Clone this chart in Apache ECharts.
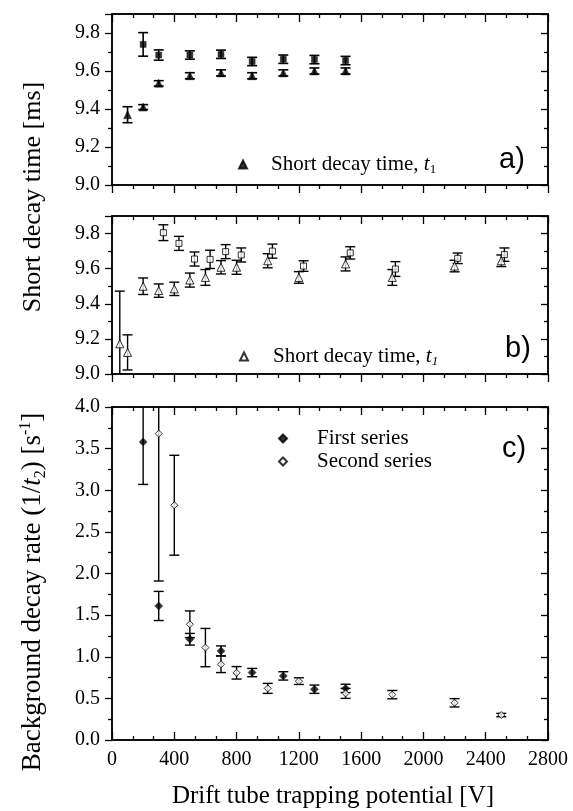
<!DOCTYPE html>
<html>
<head>
<meta charset="utf-8">
<script src="https://cdn.jsdelivr.net/npm/echarts@6/dist/echarts.min.js"></script>
<style>
  html, body { margin: 0; padding: 0; background: #fff; }
  #chart { width: 573px; height: 811px; }
</style>
</head>
<body>
<div id="chart"></div>
<script>
// ---- Panel a: short decay time (ms) vs drift tube potential (V)
const voltA = [100, 200, 300, 500, 700, 900, 1100, 1300, 1500];
const t1A = [9.37, 9.41, 9.535, 9.575, 9.59, 9.575, 9.59, 9.60, 9.60];
const t1AErr = [0.042, 0.013, 0.014, 0.016, 0.016, 0.016, 0.016, 0.016, 0.016];
const voltASq = [200, 300, 500, 700, 900, 1100, 1300, 1500];
const sqA = [9.74, 9.684, 9.684, 9.688, 9.65, 9.662, 9.66, 9.655];
const sqAErr = [0.062, 0.027, 0.022, 0.022, 0.022, 0.022, 0.022, 0.022];

// ---- Panel b: short decay time (ms), second run
const voltB = [50, 100, 200, 300, 400, 500, 600, 700, 800, 1000, 1200, 1500, 1800, 2200, 2500];
const t1B = [9.172, 9.123, 9.50, 9.475, 9.485, 9.535, 9.55, 9.608, 9.608, 9.645, 9.55, 9.627, 9.55, 9.615, 9.645];
const t1BErr = [0.30, 0.10, 0.047, 0.038, 0.038, 0.04, 0.045, 0.038, 0.04, 0.04, 0.033, 0.04, 0.045, 0.033, 0.033];
const voltBSq = [330, 430, 530, 630, 730, 830, 1030, 1230, 1530, 1820, 2220, 2520];
const sqB = [9.805, 9.744, 9.655, 9.653, 9.697, 9.678, 9.70, 9.615, 9.69, 9.598, 9.659, 9.68];
const sqBErr = [0.045, 0.04, 0.04, 0.052, 0.04, 0.04, 0.04, 0.03, 0.035, 0.042, 0.03, 0.038];

// ---- Panel c: background decay rate (1/s)
const voltC1 = [200, 300, 500, 700, 900, 1100, 1300, 1500];
const rateC1 = [3.58, 1.61, 1.21, 1.07, 0.81, 0.77, 0.61, 0.62];
const errC1 = [0.51, 0.175, 0.07, 0.06, 0.05, 0.05, 0.05, 0.05];
const voltC2 = [300, 400, 500, 600, 700, 800, 1000, 1200, 1500, 1800, 2200, 2500];
const rateC2 = [3.68, 2.82, 1.39, 1.11, 0.91, 0.807, 0.62, 0.707, 0.56, 0.545, 0.447, 0.30];
const errC2 = [1.77, 0.60, 0.16, 0.23, 0.10, 0.075, 0.06, 0.04, 0.06, 0.05, 0.05, 0.02];

// ---- Axis settings
const xTicks = { min: 0, max: 2800, interval: 400 };
const yRangeA = { min: 9.0, max: 9.9, interval: 0.2 };
const yRangeB = { min: 9.0, max: 9.9, interval: 0.2 };
const yRangeC = { min: 0, max: 4.0, interval: 0.5 };

const SERIF = 'Liberation Serif';
const SANS = 'Liberation Sans';
const INK = '#000';

const chart = echarts.init(document.getElementById('chart'), null, { renderer: 'canvas' });

function pairs(xs, ys) { return xs.map((x, i) => [x, ys[i]]); }
function triples(xs, ys, es) { return xs.map((x, i) => [x, ys[i], es[i]]); }

// error bar drawn from [x, y, err], clipped to the y range of its panel
function errorBars(xIdx, yIdx, range, xs, ys, es, capHalf, width) {
  return {
    type: 'custom',
    xAxisIndex: xIdx,
    yAxisIndex: yIdx,
    silent: true,
    z: 2,
    data: triples(xs, ys, es),
    renderItem: function (params, api) {
      const x = api.value(0), y = api.value(1), e = api.value(2);
      const hi = y + e, lo = y - e;
      const hiC = Math.min(hi, range.max), loC = Math.max(lo, range.min);
      const top = api.coord([x, hiC]);
      const bot = api.coord([x, loC]);
      const style = { stroke: INK, lineWidth: width, fill: null };
      const children = [{ type: 'line', shape: { x1: top[0], y1: top[1], x2: bot[0], y2: bot[1] }, style: style }];
      if (hi <= range.max) children.push({ type: 'line', shape: { x1: top[0] - capHalf, y1: top[1], x2: top[0] + capHalf, y2: top[1] }, style: style });
      if (lo >= range.min) children.push({ type: 'line', shape: { x1: bot[0] - capHalf, y1: bot[1], x2: bot[0] + capHalf, y2: bot[1] }, style: style });
      return { type: 'group', children: children };
    }
  };
}

function markers(name, xIdx, yIdx, xs, ys, symbol, size, filled) {
  return {
    name: name,
    type: 'scatter',
    xAxisIndex: xIdx,
    yAxisIndex: yIdx,
    z: 3,
    symbol: symbol,
    symbolSize: size,
    data: pairs(xs, ys),
    itemStyle: filled ? { color: INK, borderColor: INK, borderWidth: 0.5 }
                      : { color: '#fff', borderColor: INK, borderWidth: 1 },
    emphasis: { disabled: true }
  };
}

const grids = [
  { left: 112, right: 25, top: 14, height: 171 },
  { left: 112, right: 25, top: 216, height: 158 },
  { left: 112, right: 25, top: 407, height: 333 }
].map(g => Object.assign(g, { show: true, borderColor: INK, borderWidth: 1.5, backgroundColor: 'transparent' }));

const axisLine = { show: true, onZero: false, lineStyle: { color: INK, width: 1.5 } };
const tickStyle = { color: INK, width: 1.3 };

const xAxes = [];
const yAxes = [];
const yRanges = [yRangeA, yRangeB, yRangeC];
for (let i = 0; i < 3; i++) {
  // bottom and top x axes
  xAxes.push({
    type: 'value', gridIndex: i, position: 'bottom',
    min: xTicks.min, max: xTicks.max, interval: xTicks.interval,
    axisLine: axisLine,
    axisTick: { show: true, inside: i === 2, length: 8, lineStyle: tickStyle },
    minorTick: { show: true, splitNumber: 3, length: 4, lineStyle: tickStyle },
    splitLine: { show: false },
    axisLabel: { show: i === 2, color: INK, fontFamily: SERIF, fontSize: 20, margin: 10, formatter: v => String(v) }
  });
  xAxes.push({
    type: 'value', gridIndex: i, position: 'top',
    min: xTicks.min, max: xTicks.max, interval: xTicks.interval,
    axisLine: axisLine,
    axisTick: { show: true, inside: true, length: 8, lineStyle: tickStyle },
    minorTick: { show: true, splitNumber: 3, length: 4, lineStyle: tickStyle },
    splitLine: { show: false },
    axisLabel: { show: false }
  });
  const r = yRanges[i];
  yAxes.push({
    type: 'value', gridIndex: i, position: 'left',
    min: r.min, max: r.max, interval: r.interval,
    axisLine: axisLine,
    axisTick: { show: true, inside: false, length: 7, lineStyle: tickStyle },
    minorTick: { show: true, splitNumber: 2, length: 4, lineStyle: tickStyle },
    splitLine: { show: false },
    axisLabel: {
      show: true, color: INK, fontFamily: SERIF, fontSize: 20, margin: 12, showMaxLabel: i === 2,
      formatter: v => v.toFixed(1)
    }
  });
  yAxes.push({
    type: 'value', gridIndex: i, position: 'right',
    min: r.min, max: r.max, interval: r.interval,
    axisLine: axisLine,
    axisTick: { show: true, inside: true, length: 7, lineStyle: tickStyle },
    minorTick: { show: true, splitNumber: 2, length: 4, lineStyle: tickStyle },
    splitLine: { show: false },
    axisLabel: { show: false }
  });
}

const legendLabels = {
  t1a: '{f|Short decay time, }{i|t}{s|1}',
  t1b: '{f|Short decay time, }{i|t}{si|1}',
  first: '{f|First series}',
  second: '{f|Second series}'
};
function legendRich(gap) {
  return {
    f: { fontFamily: SERIF, fontSize: 21, color: INK, padding: [0, 0, 0, gap], lineHeight: 24 },
    i: { fontFamily: SERIF, fontSize: 21, fontStyle: 'italic', color: INK, lineHeight: 24 },
    s: { fontFamily: SERIF, fontSize: 13, color: INK, verticalAlign: 'bottom', lineHeight: 13 },
    si: { fontFamily: SERIF, fontSize: 13, fontStyle: 'italic', color: INK, verticalAlign: 'bottom', lineHeight: 13 }
  };
}
function legendOf(names, left, top, gap) {
  return {
    data: names.map(n => ({ name: n })),
    left: left, top: top,
    orient: 'vertical',
    itemWidth: 8, itemHeight: 8,
    itemGap: 2,
    selectedMode: false,
    formatter: n => legendLabels[n],
    textStyle: { rich: legendRich(gap) }
  };
}

const option = {
  animation: false,
  backgroundColor: '#fff',
  grid: grids,
  xAxis: xAxes,
  yAxis: yAxes,
  legend: [
    legendOf(['t1a'], 233, 149, 19),
    legendOf(['t1b'], 234, 341, 20),
    legendOf(['first', 'second'], 273, 423, 25)
  ],
  graphic: [
    {
      type: 'text', x: 33, y: 197, rotation: Math.PI / 2,
      style: { text: 'Short decay time [ms]', fontFamily: SERIF, fontSize: 26, fill: INK, align: 'center', verticalAlign: 'middle' }
    },
    {
      type: 'text', x: 33, y: 592, rotation: Math.PI / 2,
      style: {
        text: '{n|Background decay rate (1/}{i|t}{sub|2}{n|) [s}{sup|-1}{n|]}',
        align: 'center', verticalAlign: 'middle',
        rich: {
          n: { fontFamily: SERIF, fontSize: 27, fill: INK, lineHeight: 31 },
          i: { fontFamily: SERIF, fontSize: 27, fontStyle: 'italic', fill: INK, lineHeight: 31 },
          sub: { fontFamily: SERIF, fontSize: 16, fill: INK, verticalAlign: 'bottom', lineHeight: 16 },
          sup: { fontFamily: SERIF, fontSize: 16, fill: INK, verticalAlign: 'top', lineHeight: 16 }
        }
      }
    },
    {
      type: 'text', x: 333, y: 796,
      style: { text: 'Drift tube trapping potential [V]', fontFamily: SERIF, fontSize: 25, fill: INK, align: 'center', verticalAlign: 'middle' }
    },
    { type: 'text', x: 512, y: 160, style: { text: 'a)', fontFamily: SANS, fontSize: 29, fill: INK, align: 'center', verticalAlign: 'middle' } },
    { type: 'text', x: 518, y: 349, style: { text: 'b)', fontFamily: SANS, fontSize: 29, fill: INK, align: 'center', verticalAlign: 'middle' } },
    { type: 'text', x: 514, y: 449, style: { text: 'c)', fontFamily: SANS, fontSize: 29, fill: INK, align: 'center', verticalAlign: 'middle' } }
  ],
  series: [
    // panel a
    errorBars(0, 0, yRangeA, voltASq, sqA, sqAErr, 5, 1.6),
    errorBars(0, 0, yRangeA, voltA, t1A, t1AErr, 5, 1.6),
    markers('sqA', 0, 0, voltASq, sqA, 'rect', 6, true),
    markers('t1a', 0, 0, voltA, t1A, 'triangle', 8, true),
    // panel b
    errorBars(2, 2, yRangeB, voltBSq, sqB, sqBErr, 5, 1.4),
    errorBars(2, 2, yRangeB, voltB, t1B, t1BErr, 5, 1.4),
    markers('sqB', 2, 2, voltBSq, sqB, 'rect', 6, false),
    markers('t1b', 2, 2, voltB, t1B, 'triangle', 8, false),
    // panel c
    errorBars(4, 4, yRangeC, voltC1, rateC1, errC1, 5, 1.4),
    errorBars(4, 4, yRangeC, voltC2, rateC2, errC2, 5, 1.4),
    markers('first', 4, 4, voltC1, rateC1, 'diamond', 8, true),
    markers('second', 4, 4, voltC2, rateC2, 'diamond', 7, false)
  ]
};

chart.setOption(option);
</script>
</body>
</html>
